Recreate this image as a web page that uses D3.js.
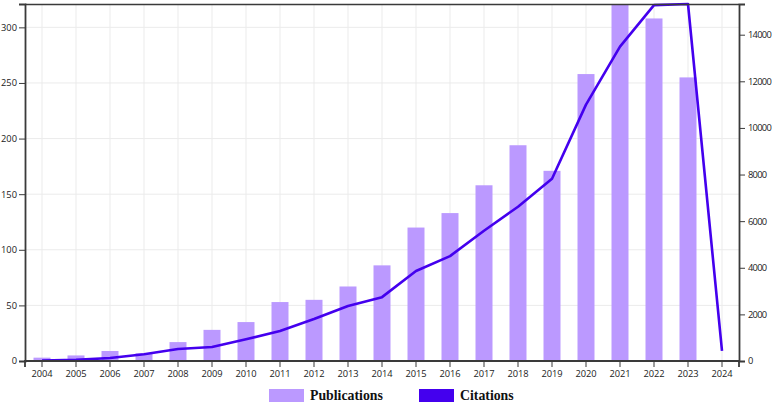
<!DOCTYPE html>
<html>
<head>
<meta charset="utf-8">
<script src="https://cdn.jsdelivr.net/npm/d3@7"></script>
<style>
  html, body { margin: 0; padding: 0; background: #fff; }
  svg { display: block; }
</style>
</head>
<body>
<svg id="chart" width="775" height="404"></svg>
<script>
const years = ["2004","2005","2006","2007","2008","2009","2010","2011","2012","2013","2014","2015","2016","2017","2018","2019","2020","2021","2022","2023","2024"];
const publications = [3, 5, 9, 7, 17, 28, 35, 53, 55, 67, 86, 120, 133, 158, 194, 171, 258, 321, 308, 255, null];
const citations = [20, 50, 130, 290, 515, 600, 930, 1290, 1800, 2360, 2740, 3860, 4500, 5590, 6620, 7820, 11000, 13490, 15270, 15317, 430];
const leftTicks = [0, 50, 100, 150, 200, 250, 300];
const rightTicks = [0, 2000, 4000, 6000, 8000, 10000, 12000, 14000];
const seriesNames = ["Publications", "Citations"];

const barColor = "#bb99ff";
const lineColor = "#4400ee";
const axisColor = "#3a3a3a";
const gridColor = "#ebebeb";

const svg = d3.select("#chart");
const mLeft = 25, mRight = 739, mTop = 4, mBottom = 361;

const x = d3.scaleBand().domain(years).range([mLeft, mRight]).paddingInner(0.5).paddingOuter(0.25);
const yL = d3.scaleLinear().domain([0, d3.max(publications)]).range([mBottom, mTop]);
const yR = d3.scaleLinear().domain([0, d3.max(citations)]).range([mBottom, mTop]);
const cx = d => x(d) + x.bandwidth() / 2;

// grid
const grid = svg.append("g");
grid.selectAll("line.v").data(years).join("line").attr("class", "v")
  .attr("x1", d => cx(d)).attr("x2", d => cx(d))
  .attr("y1", mTop).attr("y2", mBottom)
  .attr("stroke", gridColor).attr("stroke-width", 1);
grid.selectAll("line.h").data(leftTicks.filter(t => t > 0)).join("line").attr("class", "h")
  .attr("x1", mLeft).attr("x2", mRight)
  .attr("y1", d => yL(d)).attr("y2", d => yL(d))
  .attr("stroke", gridColor).attr("stroke-width", 1);

// bars
svg.append("g").selectAll("rect").data(years.map((y, i) => ({y, v: publications[i]})).filter(d => d.v != null))
  .join("rect")
  .attr("x", d => x(d.y)).attr("width", x.bandwidth())
  .attr("y", d => yL(d.v)).attr("height", d => mBottom - yL(d.v))
  .attr("fill", barColor);

// line
const line = d3.line().x(d => cx(d.y)).y(d => yR(d.v));
svg.append("path")
  .datum(years.map((y, i) => ({y, v: citations[i]})))
  .attr("d", line)
  .attr("fill", "none").attr("stroke", lineColor).attr("stroke-width", 2.6)
  .attr("stroke-linejoin", "round");

// top border
svg.append("line").attr("x1", mLeft).attr("x2", mRight).attr("y1", mTop + 0.5).attr("y2", mTop + 0.5)
  .attr("stroke", axisColor).attr("stroke-width", 1.5);

const fontFam = "'Open Sans', 'Noto Sans', sans-serif";
function styleAxis(g) {
  g.select(".domain").attr("stroke", axisColor).attr("stroke-width", 1.8);
  g.selectAll(".tick line").attr("stroke", axisColor).attr("stroke-width", 1);
  g.selectAll(".tick text").attr("fill", "#222").attr("font-family", fontFam).attr("font-size", "9.3px");
}

const gx = svg.append("g").attr("transform", `translate(0,${mBottom})`)
  .call(d3.axisBottom(x).tickSize(6).tickPadding(3));
gx.select(".domain").attr("d", `M${mLeft},6V0H${mRight}V6`);
styleAxis(gx);

const gl = svg.append("g").attr("transform", `translate(${mLeft},0)`)
  .call(d3.axisLeft(yL).tickValues(leftTicks).tickSize(6).tickPadding(2));
styleAxis(gl);

const gr = svg.append("g").attr("transform", `translate(${mRight},0)`)
  .call(d3.axisRight(yR).tickValues(rightTicks).tickSize(6).tickPadding(3).tickFormat(d3.format("d")));
styleAxis(gr);
gr.selectAll(".tick text").attr("letter-spacing", "-0.7px");

// legend
const legend = svg.append("g");
const legendItems = [
  {name: seriesNames[0], color: barColor, x: 269, tx: 310},
  {name: seriesNames[1], color: lineColor, x: 419, tx: 460}
];
legend.selectAll("rect").data(legendItems).join("rect")
  .attr("x", d => d.x).attr("y", 389).attr("width", 35).attr("height", 13)
  .attr("fill", d => d.color);
legend.selectAll("text").data(legendItems).join("text")
  .attr("x", d => d.tx).attr("y", 400)
  .attr("font-family", "'Liberation Serif', 'Times New Roman', serif")
  .attr("font-weight", "bold").attr("font-size", "13.8px").attr("fill", "#111")
  .text(d => d.name);
</script>
</body>
</html>
